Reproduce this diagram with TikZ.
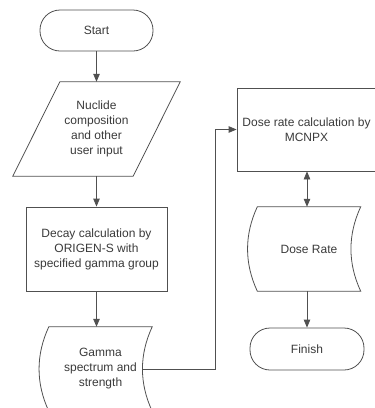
\documentclass[tikz,border=0pt]{standalone}
\usepackage{fontspec}
\setmainfont{Liberation Sans}
\usetikzlibrary{arrows.meta,calc}
\definecolor{linecol}{HTML}{505050}
\definecolor{txtcol}{HTML}{3A3A3A}
\begin{document}
\begin{tikzpicture}[x=1pt,y=-1pt,
  lbl/.style={align=center, text=txtcol, font=\fontsize{12}{15}\selectfont, inner sep=0pt},
  box/.style={lbl, draw=linecol, line width=0.8pt},
  term/.style={box, rounded corners=20pt, minimum width=113pt, minimum height=41pt},
  ghost/.style={lbl},
  shp/.style={draw=linecol, line width=0.8pt},
  arr/.style={draw=linecol, line width=0.8pt, -{Triangle[length=8pt,width=6.5pt]}},
  darr/.style={draw=linecol, line width=0.8pt, {Triangle[length=8pt,width=6.5pt]}-{Triangle[length=8pt,width=6.5pt]}}]
\useasboundingbox (0,0) rectangle (375,408);
\clip (0,0) rectangle (375,408);

% left column
\node[term] (start) at (96.5,30.5) {Start};
\node[ghost, minimum width=167pt, minimum height=94pt] (inp) at (96.5,129)
  {Nuclide\\composition\\and other\\user input};
\draw[shp] ($(inp.north west)+(47,0)$) -- (inp.north east)
  -- ($(inp.south east)+(-47,0)$) -- (inp.south west) -- cycle;
\node[box, minimum width=141pt, minimum height=84pt] (decay) at (96.5,249)
  {Decay calculation by\\ORIGEN-S with\\specified gamma group};
\node[ghost, minimum width=103pt, minimum height=84pt] (gam) at (100.5,369)
  {Gamma\\spectrum and\\strength};
\draw[shp] (gam.north west) -- (gam.north east)
  .. controls ($(gam.north east)+(-13,28)$) and ($(gam.south east)+(-13,-28)$) .. (gam.south east)
  -- (gam.south west)
  .. controls ($(gam.south west)+(-13,-28)$) and ($(gam.north west)+(-13,28)$) .. (gam.north west) -- cycle;

% right column
\node[box, minimum width=139pt, minimum height=83pt] (calc) at (306.5,129.5)
  {Dose rate calculation by\\MCNPX};
\node[ghost, minimum width=103pt, minimum height=84pt] (dr) at (309,249) {Dose Rate};
\draw[shp] (dr.north west) -- (dr.north east)
  .. controls ($(dr.north east)+(-13,28)$) and ($(dr.south east)+(-13,-28)$) .. (dr.south east)
  -- (dr.south west)
  .. controls ($(dr.south west)+(-13,-28)$) and ($(dr.north west)+(-13,28)$) .. (dr.north west) -- cycle;
\node[term, minimum width=114pt, minimum height=42pt] (fin) at (307,349) {Finish};

% connectors
\draw[arr] (start.south) -- (start.south |- inp.north);
\draw[arr] (inp.south -| decay.north) -- (decay.north);
\draw[arr] (decay.south) -- (decay.south |- gam.north);
\coordinate (gout) at ($(gam.east)+(-10,0)$);
\coordinate (bend) at (215,0);
\draw[arr] (gout) -- (gout -| bend) -- (bend |- calc.west) -- (calc.west);
\draw[darr] (calc.south -| fin.north) -- (fin.north |- dr.north);
\draw[arr] (dr.south -| fin.north) -- (fin.north);
\end{tikzpicture}
\end{document}
